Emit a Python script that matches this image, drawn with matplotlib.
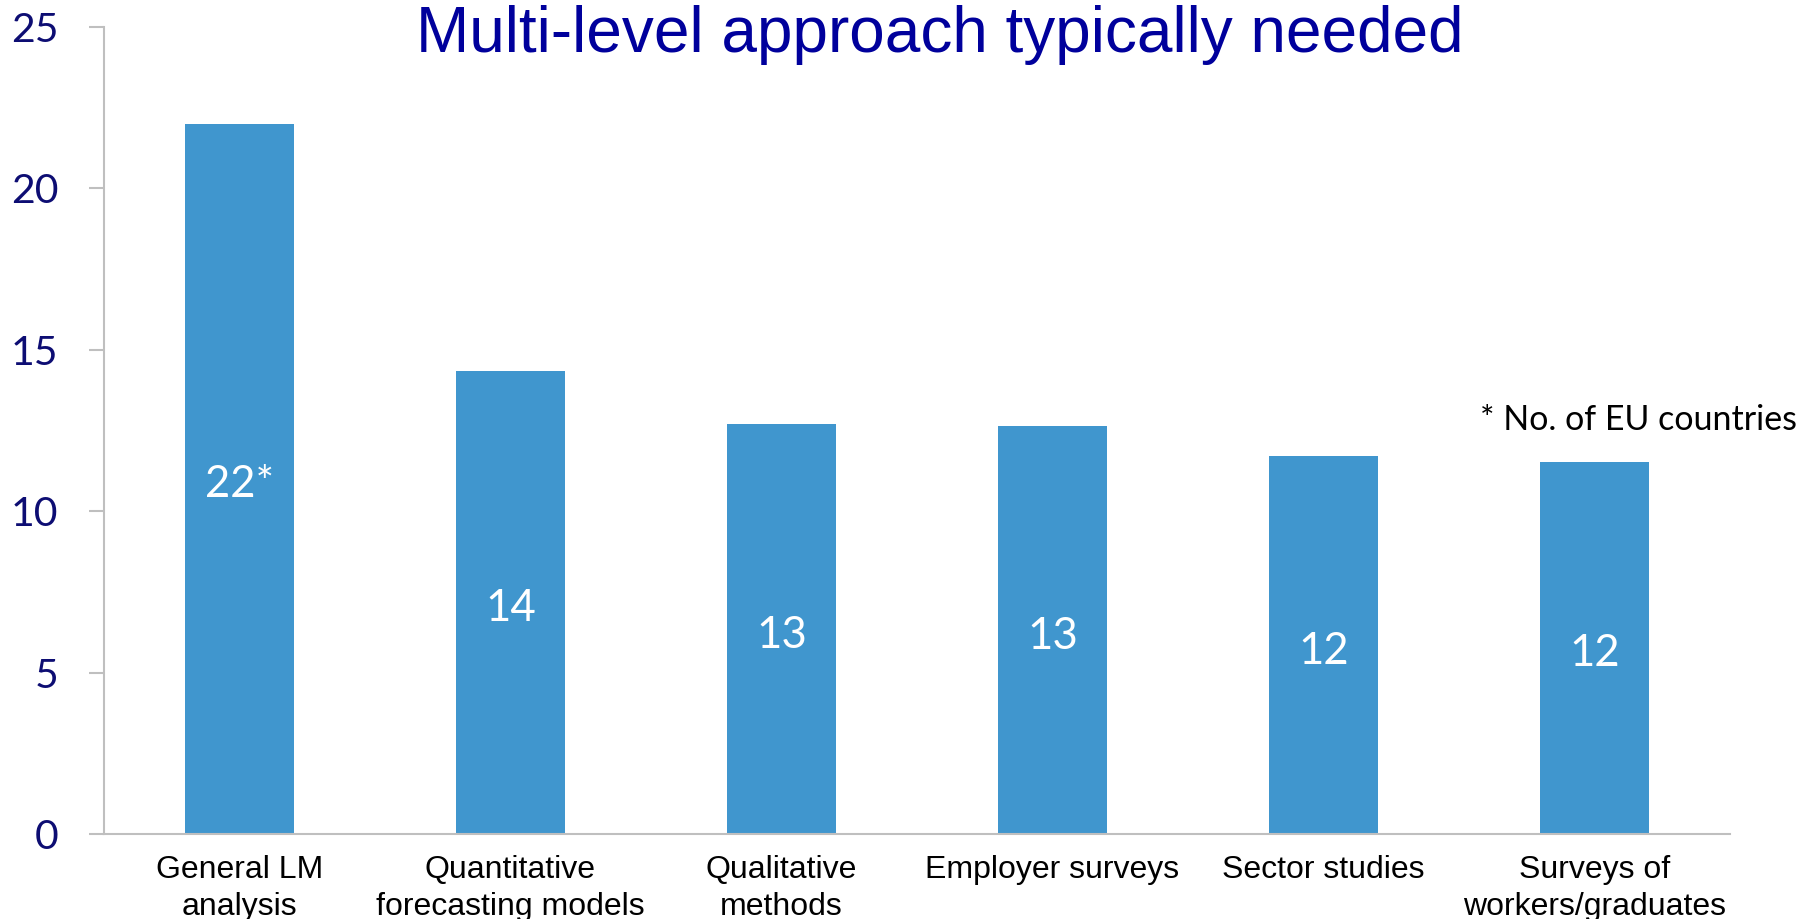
import matplotlib.pyplot as plt
import matplotlib.transforms as mtransforms
from matplotlib import font_manager

# ----------------------------
# DATA
# ----------------------------
categories = ["General LM\nanalysis", "Quantitative\nforecasting models", "Qualitative\nmethods",
              "Employer surveys", "Sector studies", "Surveys of\nworkers/graduates"]
values = [22.0, 14.35, 12.7, 12.63, 11.7, 11.53]
bar_labels = ["22*", "14", "13", "13", "12", "12"]
y_ticks = [0, 5, 10, 15, 20, 25]

# fonts
names = {f.name for f in font_manager.fontManager.ttflist}
narrow = "Liberation Sans Narrow" if "Liberation Sans Narrow" in names else "Liberation Sans"
body = "Lato"

bar_color = "#4096CE"
axis_grey = "#BFBFBF"
navy = "#0D0D73"

fig = plt.figure(figsize=(18.12, 9.19), dpi=100)
ax = fig.add_axes([104 / 1812, 1 - 834 / 919, (1730 - 104) / 1812, (834 - 27) / 919])

x = list(range(len(categories)))
ax.bar(x, values, width=0.4, color=bar_color)

# value labels sit in the middle of each bar
shift = mtransforms.offset_copy(ax.transData, fig=fig, x=0, y=-6, units="dots")
for xi, v, lab in zip(x, values, bar_labels):
    ax.text(xi, v / 2, lab, ha="center", va="center", color="white",
            fontsize=31.5, family=body, transform=shift)

ax.set_xlim(-0.5, len(categories) - 0.5)
ax.set_ylim(0, 25)
ax.set_yticks(y_ticks)
ax.set_yticklabels([str(t) for t in y_ticks], family=body, fontsize=29.5, color=navy)
ax.set_xticks(x)
ax.set_xticklabels(categories, family=narrow, fontsize=23, color="black", linespacing=1.3)

ax.tick_params(axis="y", length=11, width=1.5, color=axis_grey, pad=22)
ax.tick_params(axis="x", length=0, pad=15)

for s in ["top", "right"]:
    ax.spines[s].set_visible(False)
for s in ["left", "bottom"]:
    ax.spines[s].set_color(axis_grey)
    ax.spines[s].set_linewidth(1.5)

fig.text(940 / 1812, 1 - 52 / 919, "Multi-level approach typically needed",
         ha="center", va="baseline", fontsize=46, color="#00009C", family=narrow)

fig.text(1797 / 1812, 1 - 430 / 919, "* No. of EU countries",
         ha="right", va="baseline", fontsize=24.5, color="black", family=body)

fig.savefig("out.png", dpi=100)
